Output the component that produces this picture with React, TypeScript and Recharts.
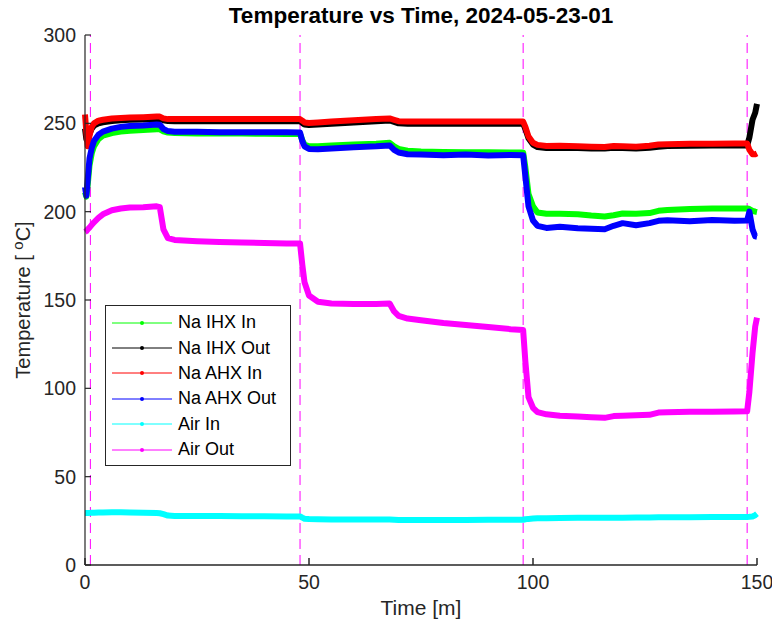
import React from "react";
import { Legend, Line, LineChart, ReferenceLine, XAxis, YAxis } from "recharts";

const FONT = '"Liberation Sans", Arial, sans-serif';
const INK = "#262626";

// time in minutes
const time = [
  0, 0.3, 0.6, 1, 1.5, 2, 3, 4, 6, 8, 10, 13, 16, 16.7, 17.5, 18.5, 20, 25, 30,
  35, 40, 45, 48, 48.5, 49, 50, 52, 55, 60, 65, 68, 69, 70, 72, 75, 80, 85, 90,
  95, 97.8, 98.3, 99, 100, 101, 103, 106, 110, 113, 116, 118, 120, 123, 126, 128,
  130, 135, 140, 145, 147.8, 148.3, 149, 149.6, 150,
];

const naIhxIn = [
  211, 208.5, 215, 226, 233, 237, 241, 243, 244.5, 245.3, 245.8, 246.2, 246.6,
  246.6, 245.5, 244.8, 244.5, 244.3, 244.2, 244.2, 244.1, 244, 244, 240.5, 238,
  237, 237, 237.5, 238, 238.5, 239, 237, 235.5, 234.5, 234, 233.8, 233.7, 233.6,
  233.5, 233.5, 225, 210, 203, 199.5, 198.8, 198.8, 198.5, 197.8, 197.3, 198,
  199, 198.8, 199.2, 200.5, 201, 201.5, 201.8, 201.8, 201.8, 201.5, 200.5, 200,
  199.8,
];

const naIhxOut = [
  247, 241, 240, 244, 247, 248.7, 250, 250.6, 251.3, 251.7, 252, 252.2, 252.5,
  252.5, 251.7, 251.3, 251.2, 251.2, 251.2, 251.2, 251.2, 251.2, 251.2, 250.2,
  249.3, 249, 249.3, 249.8, 250.5, 251.2, 251.6, 250.8, 250, 249.8, 249.8, 249.8,
  249.8, 249.8, 249.8, 249.8, 246.8, 241.5, 238, 236.6, 236, 236.2, 236, 235.8,
  235.7, 236.2, 236, 235.8, 236.2, 236.8, 237.2, 237.3, 237.4, 237.5, 237.4, 242,
  252, 256, 261,
];

const naAhxIn = [
  255, 245, 237, 243, 248, 250, 251.5, 252, 252.7, 253, 253.3, 253.5, 253.8,
  253.8, 252.8, 252.4, 252.4, 252.4, 252.4, 252.4, 252.4, 252.4, 252.4, 251.5,
  250.5, 250.2, 250.5, 251, 251.7, 252.4, 252.8, 252, 251.2, 251, 251, 251, 251,
  251, 251, 251, 248, 242.5, 239, 237.8, 237.2, 237.3, 237, 236.8, 236.6, 237.2,
  237, 236.8, 237.3, 238, 238.2, 238.4, 238.5, 238.6, 238.6, 235, 232.5, 232.5,
  233,
];

const naAhxOut = [
  214, 209, 218, 230, 236, 240, 243.5, 245.3, 247, 248, 248.5, 248.8, 249.3,
  249.2, 246.8, 245.6, 245.3, 245.2, 245, 245, 245, 244.9, 244.8, 240, 237,
  235.5, 235.3, 235.8, 236.5, 237, 237.5, 235, 233.5, 232.5, 232.3, 232, 232.3,
  231.8, 232.1, 232, 220, 203, 195, 192, 190.8, 191.5, 190.6, 190.3, 190, 192,
  193.5, 192.3, 193.5, 194.8, 195.2, 194.6, 195.3, 194.8, 195, 200, 190, 186,
  185.8,
];

const airIn = [
  29.5, 29.5, 29.5, 29.5, 29.6, 29.6, 29.7, 29.7, 29.8, 29.8, 29.7, 29.6, 29.4,
  29.3, 28.8, 28, 27.8, 27.7, 27.7, 27.6, 27.6, 27.5, 27.5, 26.8, 26.2, 26, 25.9,
  25.8, 25.8, 25.8, 25.7, 25.6, 25.5, 25.5, 25.5, 25.5, 25.5, 25.6, 25.6, 25.6,
  25.9, 26.1, 26.3, 26.5, 26.5, 26.6, 26.7, 26.7, 26.8, 26.8, 26.8, 26.9, 26.9,
  27, 27, 27, 27.1, 27.1, 27.2, 27.3, 27.5, 28.2, 29,
];

const airOut = [
  188.5, 189, 190, 191, 192.5, 194, 196.5, 198.5, 200.8, 201.8, 202.3, 202.5,
  203, 202.5, 190, 185, 184, 183.3, 182.8, 182.5, 182.3, 182, 182, 170, 160,
  152.5, 149, 148, 147.8, 147.8, 148, 143.5, 141, 139.5, 138.5, 137, 135.8,
  134.7, 133.5, 133, 115, 95, 89, 86.5, 85.3, 84.5, 84, 83.7, 83.3, 84.3, 84.5,
  84.8, 85, 86.3, 86.5, 86.7, 86.8, 86.9, 87, 98, 120, 135, 140,
];

// test phase switch times (dashed markers)
const switchTimes = [1.2, 48, 97.8, 147.8];

const xTicks = [0, 50, 100, 150];
const yTicks = [0, 50, 100, 150, 200, 250, 300];

const series = [
  { key: "naIhxIn", name: "Na IHX In", color: "#00ff00", values: naIhxIn },
  { key: "naIhxOut", name: "Na IHX Out", color: "#000000", values: naIhxOut },
  { key: "naAhxIn", name: "Na AHX In", color: "#ff0000", values: naAhxIn },
  { key: "naAhxOut", name: "Na AHX Out", color: "#0000ff", values: naAhxOut },
  { key: "airIn", name: "Air In", color: "#00ffff", values: airIn },
  { key: "airOut", name: "Air Out", color: "#ff00ff", values: airOut },
];

const data = time.map((t, i) => {
  const row: Record<string, number> = { t };
  series.forEach((s) => {
    row[s.key] = s.values[i];
  });
  return row;
});

// legend keeps plotting order (recharts would sort it by name)
function LegendBox() {
  return (
    <div
      style={{
        border: `1px solid ${INK}`,
        background: "#fff",
        width: 184,
        padding: "4px 0 3px 0",
        fontFamily: FONT,
        fontSize: 18,
        color: "#000",
      }}
    >
      {series.map((s) => (
        <div
          key={s.key}
          style={{ display: "flex", alignItems: "center", height: 25.4 }}
        >
          <svg width={66} height={10} style={{ marginLeft: 6 }}>
            <line x1={0} x2={60} y1={5} y2={5} stroke={s.color} strokeWidth={1} />
            <circle cx={30} cy={5} r={2} fill={s.color} />
          </svg>
          <span>{s.name}</span>
        </div>
      ))}
    </div>
  );
}

export default function App() {
  return (
    <div
      style={{
        position: "absolute",
        left: 0,
        top: 0,
        width: 772,
        height: 633,
        background: "#fff",
        fontFamily: FONT,
      }}
    >
      <div
        style={{
          position: "absolute",
          left: 85,
          width: 672,
          top: 3,
          textAlign: "center",
          fontWeight: "bold",
          fontSize: 22.5,
          color: "#000",
        }}
      >
        Temperature vs Time, 2024-05-23-01
      </div>
      <div
        style={{
          position: "absolute",
          left: 22,
          top: 300,
          transform: "translate(-50%, -50%) rotate(-90deg)",
          whiteSpace: "nowrap",
          fontSize: 20,
          color: INK,
        }}
      >
        Temperature [ <sup style={{ fontSize: 15 }}>o</sup>C]
      </div>
      <div
        style={{
          position: "absolute",
          left: 85,
          width: 672,
          top: 596,
          textAlign: "center",
          fontSize: 21,
          color: INK,
        }}
      >
        Time [m]
      </div>
      <LineChart
        width={772}
        height={633}
        data={data}
        margin={{ top: 35, right: 15, left: 25, bottom: 28 }}
      >
        <XAxis
          dataKey="t"
          type="number"
          domain={[0, 150]}
          ticks={xTicks}
          interval={0}
          height={40}
          tickSize={-7}
          tickMargin={17}
          axisLine={{ stroke: INK, strokeWidth: 1.5 }}
          tickLine={{ stroke: INK, strokeWidth: 1.5 }}
          tick={{ fill: INK, fontSize: 19.5, fontFamily: FONT }}
        />
        <YAxis
          type="number"
          domain={[0, 300]}
          ticks={yTicks}
          interval={0}
          width={60}
          tickSize={-6}
          tickMargin={15}
          axisLine={{ stroke: INK, strokeWidth: 1.2 }}
          tickLine={{ stroke: INK, strokeWidth: 1.2 }}
          tick={{ fill: INK, fontSize: 19.5, fontFamily: FONT }}
        />
        {switchTimes.map((x) => (
          <ReferenceLine
            key={x}
            x={x}
            stroke="#ff00ff"
            strokeWidth={1}
            strokeDasharray="10 6"
          />
        ))}
        {series.map((s) => (
          <Line
            key={s.key}
            dataKey={s.key}
            name={s.name}
            type="linear"
            stroke={s.color}
            strokeWidth={6}
            strokeLinejoin="round"
            dot={false}
            isAnimationActive={false}
          />
        ))}
        <Legend
          layout="vertical"
          align="center"
          verticalAlign="middle"
          content={<LegendBox />}
          wrapperStyle={{ left: 105, top: 305, width: "auto" }}
        />
      </LineChart>
    </div>
  );
}
